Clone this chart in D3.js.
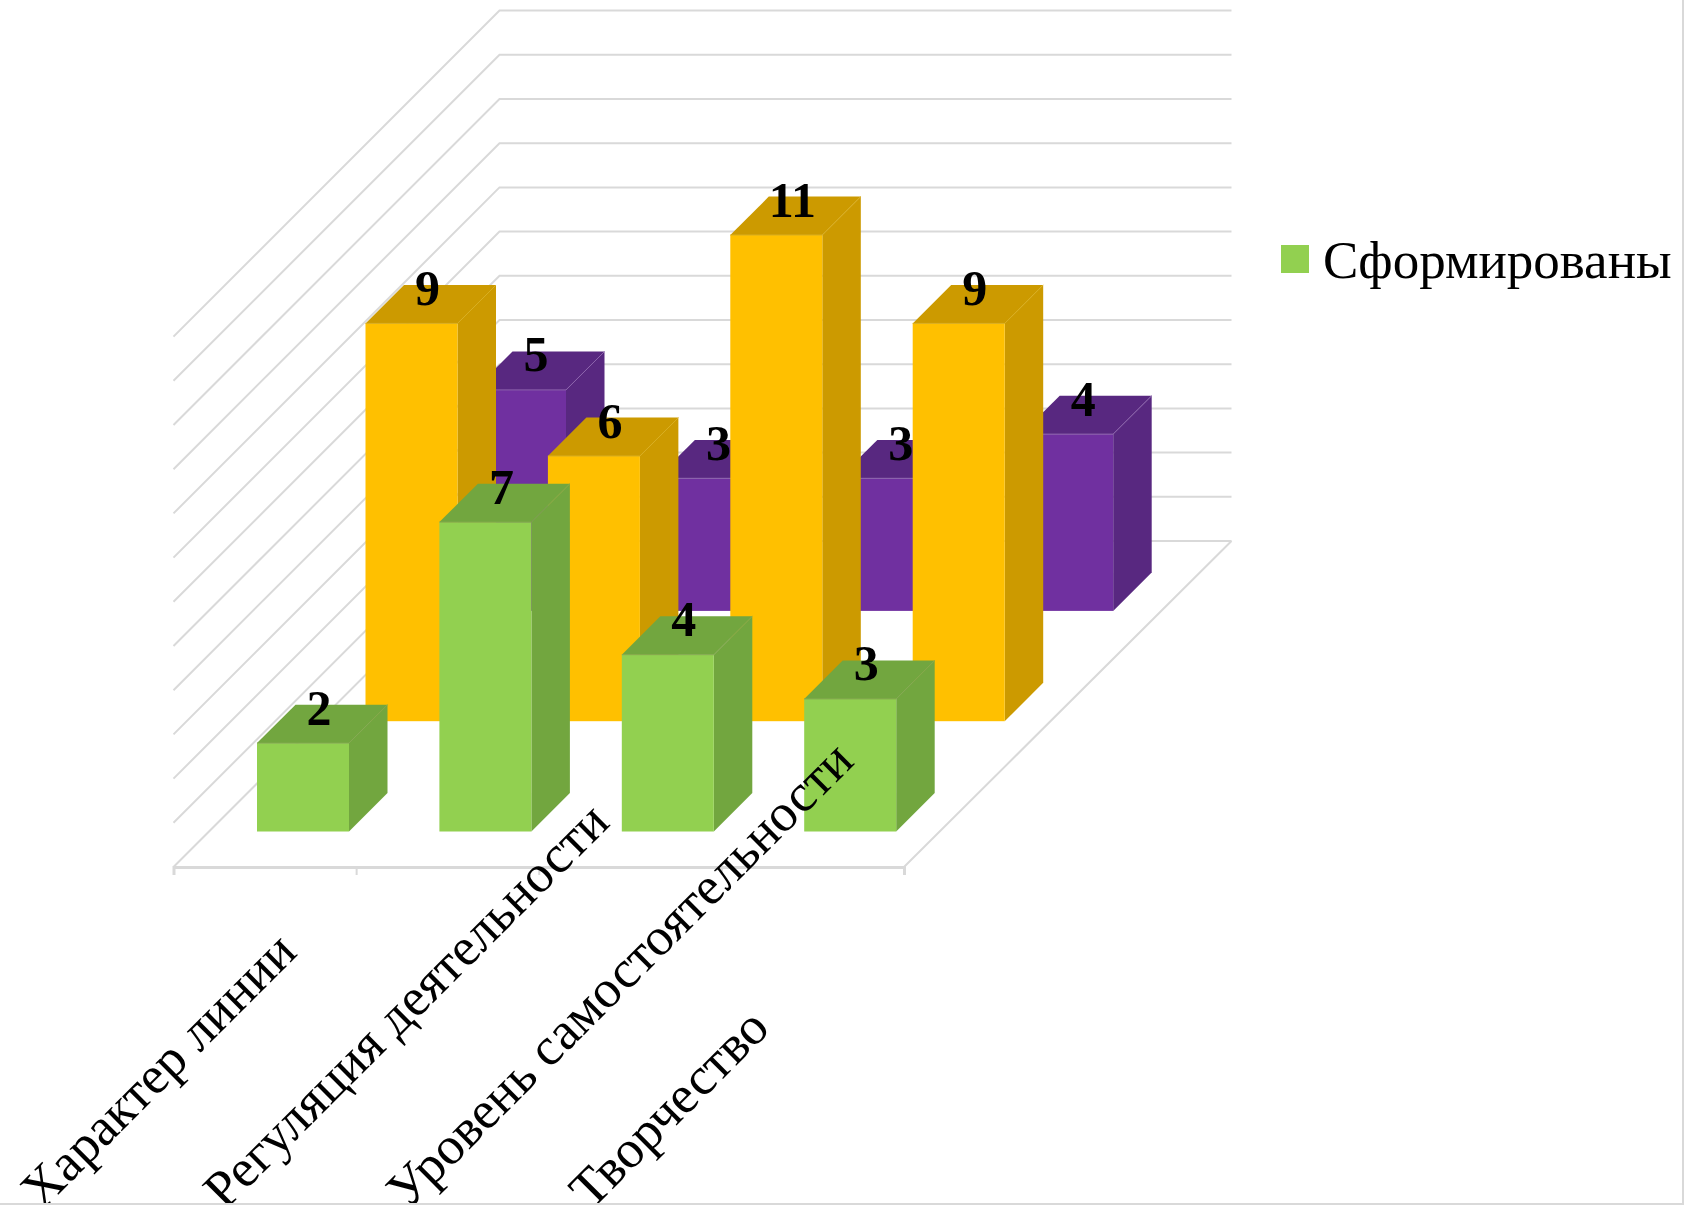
<!DOCTYPE html>
<html>
<head>
<meta charset="utf-8">
<script src="https://cdn.jsdelivr.net/npm/d3@7"></script>
<style>
  html, body { margin: 0; padding: 0; background: #fff; }
  text { font-family: "Liberation Serif", serif; fill: #000; }
</style>
</head>
<body>
<svg width="1701" height="1208"></svg>
<script>
var categories = ["Характер линии", "Регуляция деятельности", "Уровень самостоятельности", "Творчество"];
var seriesNames = ["Сформированы", "Формируются", "Не сформированы"];
var greenValues = [2, 7, 4, 3];
var yellowValues = [9, 6, 11, 9];
var purpleValues = [5, 3, 3, 4];
var valueTicks = [0, 1, 2, 3, 4, 5, 6, 7, 8, 9, 10, 11, 12];
var axisTicks = [0, 1, 2, 3, 4];
var legendNames = ["Сформированы"];

var seriesValues = [greenValues, yellowValues, purpleValues];
var frontColors = ["#92D050", "#FFC000", "#7030A0"];
var darkColors = ["#72A63F", "#CC9A00", "#582880"];
var edgeColors = ["#84A850", "#D9AE20", "#8C64AC"];

var svg = d3.select("svg");

// the floor is a parallelogram at 45 degrees, front edge at y=867
var floorLeft = 173.5, floorRight = 904, floorY = 867, floorDepth = 326;

var heightScale = d3.scaleLinear().domain([0, 12]).range([0, 530.4]);

var catScale = d3.scaleBand()
  .domain(categories)
  .range([222, 222 + 182.4 * 3 + 92])
  .paddingInner(1 - 92 / 182.4);

var rowX = d3.scaleBand()
  .domain(seriesNames)
  .range([35, 35 + 108.5 * 2 + 38.5])
  .paddingInner(1 - 38.5 / 108.5);

var rowY = d3.scaleBand()
  .domain(seriesNames)
  .range([35.5, 35.5 + 110.3 * 2 + 38.4])
  .paddingInner(1 - 38.4 / 110.3);

var tickScale = d3.scaleLinear().domain([0, 4]).range([floorLeft, floorRight]);

var poly = d3.line();

// walls and gridlines
var grid = svg.append("g");
valueTicks.forEach(v => {
  var h = heightScale(v);
  grid.append("path")
    .attr("d", poly([
      [floorLeft, floorY - h],
      [floorLeft + floorDepth, floorY - floorDepth - h],
      [floorRight + floorDepth + 1.5, floorY - floorDepth - h]
    ]))
    .attr("fill", "none")
    .attr("stroke", "#D9D9D9")
    .attr("stroke-width", 2);
});

// floor, front and right edge
grid.append("path")
  .attr("d", poly([
    [floorLeft, floorY],
    [floorRight, floorY],
    [floorRight + floorDepth + 1.5, floorY - floorDepth]
  ]))
  .attr("fill", "none")
  .attr("stroke", "#D9D9D9")
  .attr("stroke-width", 2);

var axis = d3.axisBottom(tickScale)
  .tickValues(axisTicks)
  .tickSize(8)
  .tickFormat("");

var axisG = svg.append("g")
  .attr("transform", `translate(0, ${floorY})`)
  .call(axis);
axisG.select(".domain").attr("stroke", "#D9D9D9").attr("stroke-width", 3);
axisG.selectAll(".tick line").attr("stroke", "#D9D9D9").attr("stroke-width", 2);

// bars, back row first
var bars = svg.append("g");
[2, 1, 0].forEach(s => {
  var name = seriesNames[s];
  categories.forEach((cat, c) => {
    var v = seriesValues[s][c];
    var x0 = catScale(cat) + rowX(name);
    var x1 = x0 + catScale.bandwidth();
    var yBase = floorY - rowY(name);
    var yTop = yBase - heightScale(v);
    var dx = rowX.bandwidth(), dy = rowY.bandwidth();

    bars.append("path")
      .attr("d", poly([[x1, yBase], [x1 + dx, yBase - dy], [x1 + dx, yTop - dy], [x1, yTop]]) + "Z")
      .attr("fill", darkColors[s]);
    bars.append("path")
      .attr("d", poly([[x0, yTop], [x0 + dx, yTop - dy], [x1 + dx, yTop - dy], [x1, yTop]]) + "Z")
      .attr("fill", darkColors[s]);
    bars.append("rect")
      .attr("x", x0)
      .attr("y", yTop)
      .attr("width", x1 - x0)
      .attr("height", yBase - yTop)
      .attr("fill", frontColors[s]);
    bars.append("path")
      .attr("d", poly([[x0, yTop], [x1, yTop], [x1 + dx, yTop - dy]]))
      .attr("fill", "none")
      .attr("stroke", edgeColors[s])
      .attr("stroke-width", 1);
  });
});

// value labels go over every bar
var labels = svg.append("g");
[2, 1, 0].forEach(s => {
  categories.forEach((cat, c) => {
    var v = seriesValues[s][c];
    labels.append("text")
      .attr("x", catScale(cat) + rowX(seriesNames[s]) + 62)
      .attr("y", floorY - rowY(seriesNames[s]) - heightScale(v) - 18.5)
      .attr("text-anchor", "middle")
      .attr("font-size", 50)
      .attr("font-weight", "bold")
      .text(v);
  });
});

// chart area border, only right and bottom are inside the picture
svg.append("path")
  .attr("d", poly([[1683, 0], [1683, 1204], [0, 1204]]))
  .attr("fill", "none")
  .attr("stroke", "#D9D9D9")
  .attr("stroke-width", 2);

svg.append("clipPath").attr("id", "labelClip")
  .append("rect")
  .attr("width", 1701)
  .attr("height", 1203);

// category labels, start clipped by the bottom border
var catLabels = svg.append("g").attr("clip-path", "url(#labelClip)");
categories.forEach((cat, c) => {
  var x = 42 + 183 * c;
  var y = 1211;
  catLabels.append("text")
    .attr("transform", `translate(${x}, ${y}) rotate(-45)`)
    .attr("font-size", 53)
    .text(cat);
});

// legend
legendNames.forEach(name => {
  svg.append("rect")
    .attr("x", 1281)
    .attr("y", 245)
    .attr("width", 28)
    .attr("height", 28)
    .attr("fill", frontColors[0]);
  svg.append("text")
    .attr("x", 1323)
    .attr("y", 278)
    .attr("font-size", 53)
    .text(name);
});
</script>
</body>
</html>
